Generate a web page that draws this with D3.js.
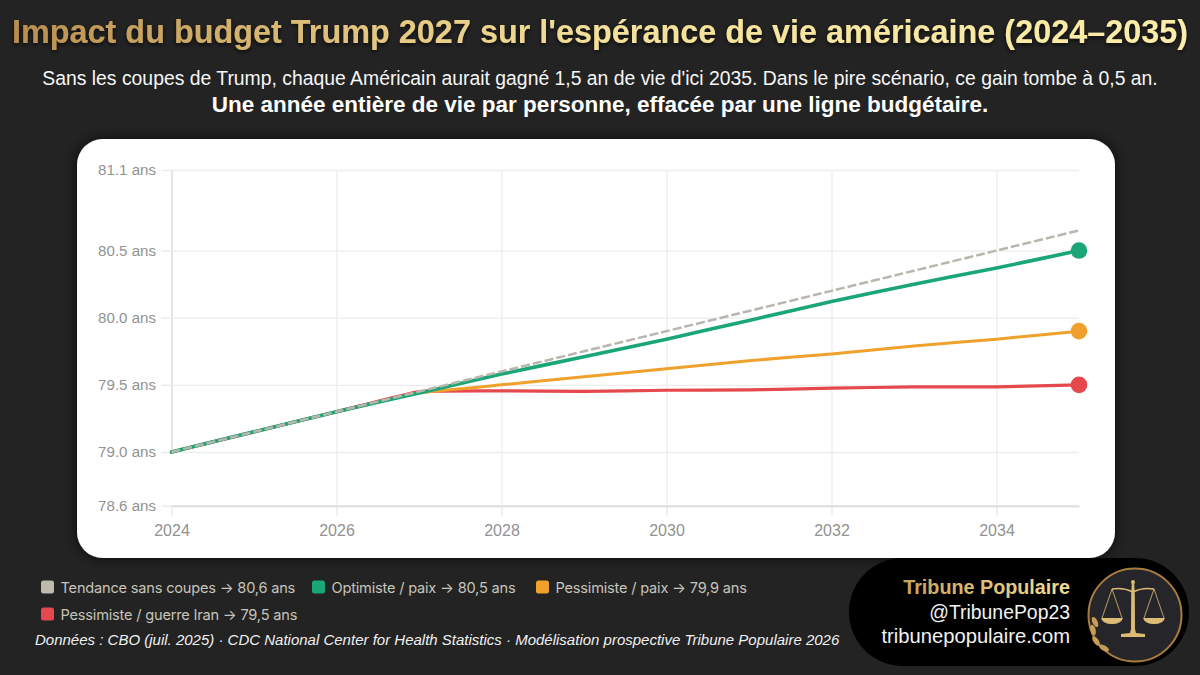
<!DOCTYPE html>
<html lang="fr"><head><meta charset="utf-8">
<script src="https://cdn.jsdelivr.net/npm/d3@7/dist/d3.min.js"></script>
<style>html,body{margin:0;padding:0;background:#232323;overflow:hidden}svg{display:block}</style>
</head><body><svg id="c" width="1200" height="675" viewBox="0 0 1200 675"></svg>
<script>
const years=[2024,2025,2026,2027,2028,2029,2030,2031,2032,2033,2034,2035];
const baseline=[79.0,79.15,79.3,79.45,79.6,79.75,79.9,80.05,80.2,80.35,80.5,80.65];
const optimistic=[79.0,79.15,79.3,79.44,79.58,79.71,79.84,79.98,80.12,80.25,80.37,80.5];
const pessimistic=[79.0,79.15,79.3,79.44,79.5,79.56,79.62,79.68,79.73,79.79,79.84,79.9];
const iranWar=[79.0,79.15,79.3,79.45,79.455,79.452,79.46,79.462,79.475,79.485,79.485,79.5];
const yTicks=[78.6,79.0,79.5,80.0,80.5,81.1];
const xTicks=[2024,2026,2028,2030,2032,2034];
const legendLabels=["Tendance sans coupes → 80,6 ans","Optimiste / paix → 80,5 ans","Pessimiste / paix → 79,9 ans","Pessimiste / guerre Iran → 79,5 ans"];
const legendColors=["#bdbab0","#1ba678","#f0a12c","#e5484d"];
const HV="'Liberation Sans',Arial,sans-serif";

const svg=d3.select("#c");
const defs=svg.append("defs");
const grad=(id,x1,x2,stops)=>{const g=defs.append("linearGradient").attr("id",id).attr("gradientUnits","userSpaceOnUse").attr("x1",x1[0]).attr("y1",x1[1]).attr("x2",x2[0]).attr("y2",x2[1]);stops.forEach(s=>g.append("stop").attr("offset",s[0]).attr("stop-color",s[1]));};
grad("gTitle",[12,0],[1188,0],[[0,"#b98e4e"],[.3,"#e3c57f"],[.5,"#f3e09a"],[1,"#fbeeaa"]]);
grad("gName",[904,0],[1071,0],[[0,"#c9a25c"],[1,"#f4dd97"]]);
grad("gRing",[1095,575],[1175,655],[[0,"#a87c3c"],[.5,"#f0d68a"],[1,"#b88f49"]]);
const sh=defs.append("filter").attr("id","sh").attr("x","-5%").attr("y","-5%").attr("width","110%").attr("height","110%");
sh.append("feDropShadow").attr("dx",0).attr("dy",0).attr("stdDeviation",7).attr("flood-color","#000").attr("flood-opacity",.75);
const ts=defs.append("filter").attr("id","ts").attr("x","-2%").attr("y","-30%").attr("width","104%").attr("height","160%");
ts.append("feDropShadow").attr("dx",0).attr("dy",2).attr("stdDeviation",2).attr("flood-color","#000").attr("flood-opacity",.7);

svg.append("rect").attr("width",1200).attr("height",675).attr("fill","#232323");

// headings
svg.append("text").attr("x",600).attr("y",43).attr("text-anchor","middle").attr("font-family",HV).attr("font-weight",700).attr("font-size",32.4).attr("fill","url(#gTitle)").attr("filter","url(#ts)").text("Impact du budget Trump 2027 sur l'espérance de vie américaine (2024–2035)");
svg.append("text").attr("x",600).attr("y",84.5).attr("text-anchor","middle").attr("font-family",HV).attr("font-size",19.37).attr("fill","#f6f6f6").text("Sans les coupes de Trump, chaque Américain aurait gagné 1,5 an de vie d'ici 2035. Dans le pire scénario, ce gain tombe à 0,5 an.");
svg.append("text").attr("x",600).attr("y",111.5).attr("text-anchor","middle").attr("font-family",HV).attr("font-weight",700).attr("font-size",22.5).attr("fill","#fff").text("Une année entière de vie par personne, effacée par une ligne budgétaire.");

// card
svg.append("rect").attr("x",77).attr("y",139).attr("width",1038).attr("height",419).attr("rx",26).attr("fill","#fff").attr("filter","url(#sh)");

// scales
const x=d3.scaleLinear().domain([2024,2035]).range([171.5,1079]);
const y=d3.scaleLinear().domain([79,81.1]).range([452,170]);

const yAxis=svg.append("g").attr("transform","translate(171.5,0)").call(d3.axisLeft(y).tickValues(yTicks).tickFormat(d=>d3.format(".1f")(d)+" ans").tickSize(10).tickSizeOuter(0).tickPadding(5.5));
const xAxis=svg.append("g").attr("transform","translate(0,506)").call(d3.axisBottom(x).tickValues(xTicks).tickFormat(d3.format("d")).tickSize(10).tickSizeOuter(0).tickPadding(8.5));
[yAxis,xAxis].forEach(a=>{a.selectAll(".domain").attr("stroke","#d8d8d8").attr("stroke-width",1.3);a.selectAll(".tick line").attr("stroke","#e8e8e8").attr("stroke-width",1.3);});
yAxis.selectAll("text").attr("font-family",HV).attr("font-size",15.1).attr("fill","#929292");
xAxis.selectAll("text").attr("font-family",HV).attr("font-size",16).attr("fill","#929292");
yAxis.selectAll(".tick").append("line").attr("x1",0).attr("x2",x(2035)-x(2024)).attr("stroke",d=>d===78.6?"#dcdcdc":"#ededed").attr("stroke-width",1.3);
xAxis.selectAll(".tick").filter(d=>d!==2024).append("line").attr("y1",0).attr("y2",y(81.1)-506).attr("stroke","#ededed").attr("stroke-width",1.3);
xAxis.raise();yAxis.raise();

// series
const line=d3.line().x((d,i)=>x(years[i])).y(d=>y(d)).curve(d3.curveCardinal.tension(.75));
const series=[[iranWar,"#e5484d",3.2],[pessimistic,"#f0a12c",3],[optimistic,"#1ba678",3.6]];
series.forEach(s=>svg.append("path").datum(s[0]).attr("d",line).attr("fill","none").attr("stroke",s[1]).attr("stroke-width",s[2]).attr("stroke-linecap","round"));
svg.append("path").datum(baseline).attr("d",line).attr("fill","none").attr("stroke","#b9b6ae").attr("stroke-width",2.5).attr("stroke-dasharray","9 3");
series.forEach(s=>svg.append("circle").attr("cx",x(2035)).attr("cy",y(s[0][11])).attr("r",8.3).attr("fill",s[1]));

// legend
const legendPos=[[41,587],[312,587],[536,587],[41,614]];
legendLabels.forEach((t,i)=>{
  const g=svg.append("g").attr("transform",`translate(${legendPos[i][0]},${legendPos[i][1]})`);
  g.append("rect").attr("x",0).attr("y",-6.5).attr("width",13).attr("height",13).attr("rx",2.5).attr("fill",legendColors[i]);
  g.append("text").attr("x",19.5).attr("y",5.6).attr("font-family","Inter,sans-serif").attr("font-size",14.6).attr("letter-spacing",-.2).attr("fill","#c6c3bb").text(t);
});
svg.append("text").attr("x",35).attr("y",645).attr("font-family",HV).attr("font-style","italic").attr("font-size",15).attr("fill","#f0f0f0").text("Données : CBO (juil. 2025) · CDC National Center for Health Statistics · Modélisation prospective Tribune Populaire 2026");

// signature pill
svg.append("rect").attr("x",849).attr("y",558).attr("width",340).attr("height",108).attr("rx",54).attr("fill","#000");
const sign=[["Tribune Populaire",594,19.75,700,"url(#gName)"],["@TribunePop23",618.5,19.4,400,"#f2f2f2"],["tribunepopulaire.com",643,20.2,400,"#f2f2f2"]];
sign.forEach(s=>svg.append("text").attr("x",1070).attr("y",s[1]).attr("text-anchor","end").attr("font-family",HV).attr("font-size",s[2]).attr("font-weight",s[3]).attr("fill",s[4]).text(s[0]));

// emblem
const ring=svg.append("g").attr("transform","translate(1135,615)");
ring.append("circle").attr("r",46.5).attr("fill","#26262a");
ring.append("circle").attr("r",46.5).attr("fill","none").attr("stroke","url(#gRing)").attr("stroke-width",2);
const e=svg.append("g").attr("transform","translate(1133,615)");
const gold="#dcbc74";
e.append("path").attr("fill",gold).attr("d","M-1.2,-32 L1.2,-32 L1.8,-20 L2,14 L3,18 L12,19 L12,22 L-12,22 L-12,19 L-3,18 L-2,14 L-1.8,-20 Z");
e.append("circle").attr("cy",-33).attr("r",2).attr("fill",gold);
e.append("path").attr("fill","none").attr("stroke",gold).attr("stroke-width",1.5).attr("d","M-21,-26 Q-10,-28 0,-23 Q10,-28 21,-26");
e.append("path").attr("fill","none").attr("stroke",gold).attr("stroke-width",.8).attr("d","M-21,-26 L-31,3 M-21,-26 L-11,3 M21,-26 L31,3 M21,-26 L11,3");
e.append("path").attr("fill",gold).attr("d","M-32,3 L-10,3 Q-12,9 -21,9 Q-30,9 -32,3 Z M10,3 L32,3 Q30,9 21,9 Q12,9 10,3 Z");
[[-38,7,-25],[-40,15,-15],[-37,26,-35],[-29,33,-60]].forEach(l=>e.append("ellipse").attr("cx",l[0]).attr("cy",l[1]).attr("rx",2.6).attr("ry",5.5).attr("transform",`rotate(${l[2]} ${l[0]} ${l[1]})`).attr("fill","#c69c55"));
</script></body></html>
